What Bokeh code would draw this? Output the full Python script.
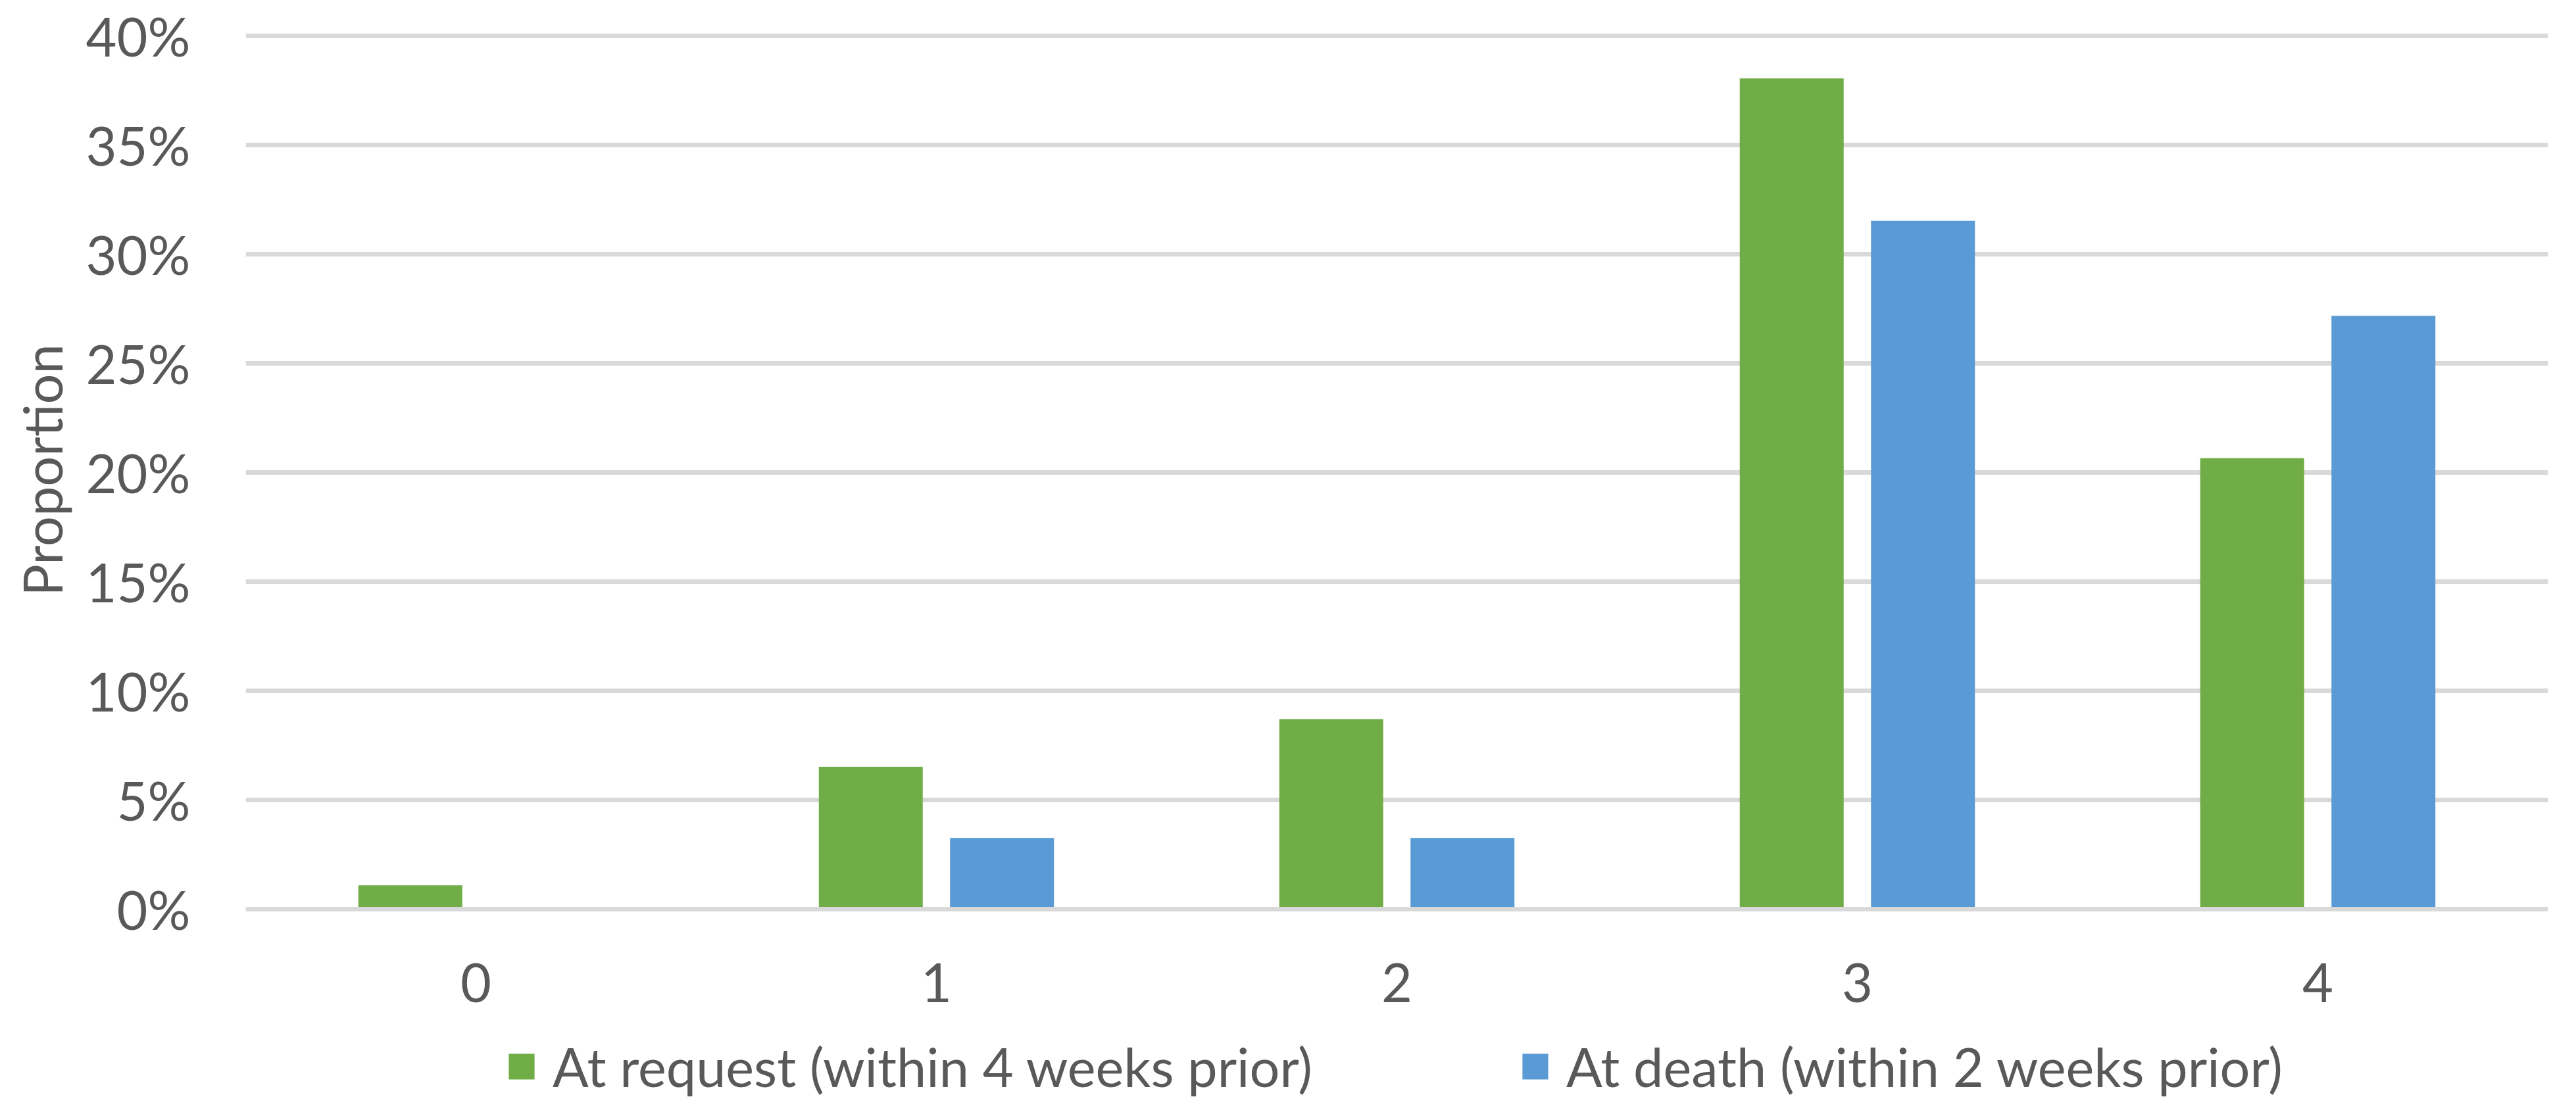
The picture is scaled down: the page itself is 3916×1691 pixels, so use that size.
from bokeh.plotting import figure
from bokeh.layouts import column
from bokeh.models import (ColumnDataSource, FactorRange, Range1d, FixedTicker,
                          NumeralTickFormatter, Legend, LegendItem)
from bokeh.transform import dodge
from bokeh.embed import file_html
from bokeh.resources import INLINE

# ---- data ----
categories = ["0", "1", "2", "3", "4"]
at_request = [0.0109, 0.0652, 0.0870, 0.3804, 0.2065]
at_death = [0.0, 0.0326, 0.0326, 0.3152, 0.2717]
series_names = ["At request (within 4 weeks prior)", "At death (within 2 weeks prior)"]
y_ticks = [0.0, 0.05, 0.10, 0.15, 0.20, 0.25, 0.30, 0.35, 0.40]
y_label = "Proportion"

GREEN = "#70AD47"
BLUE = "#5B9BD5"
TEXT = "#595959"
GRID = "#D9D9D9"
FONT = "Lato"
FS = "81px"

MAIN_H = 1566
LEG_H = 1675 - MAIN_H

src = ColumnDataSource(dict(cat=categories, req=at_request, death=at_death))

p = figure(
    width=3900, height=MAIN_H,
    x_range=FactorRange(*categories, range_padding=0),
    y_range=Range1d(0, 0.402),
    output_backend="svg", toolbar_location=None,
    min_border_left=373, min_border_right=27, min_border_top=47,
    min_border_bottom=MAIN_H - 1382,
)
p.outline_line_color = None
p.background_fill_color = "white"
p.border_fill_color = "white"

bw = 0.2257
off = 0.1425
p.vbar(x=dodge("cat", -off, range=p.x_range), top="req", width=bw, source=src,
       fill_color=GREEN, line_color=None)
p.vbar(x=dodge("cat", off, range=p.x_range), top="death", width=bw, source=src,
       fill_color=BLUE, line_color=None)

# grid
p.xgrid.grid_line_color = None
p.ygrid.grid_line_color = GRID
p.ygrid.grid_line_width = 7
p.ygrid.ticker = FixedTicker(ticks=y_ticks)

# y axis
p.yaxis.ticker = FixedTicker(ticks=y_ticks)
p.yaxis.formatter = NumeralTickFormatter(format="0%")
p.yaxis.axis_line_color = None
p.yaxis.major_tick_line_color = None
p.yaxis.minor_tick_line_color = None
p.yaxis.major_tick_out = 0
p.yaxis.major_tick_in = 0
p.yaxis.major_label_standoff = 84
p.yaxis.major_label_text_font = FONT
p.yaxis.major_label_text_font_size = FS
p.yaxis.major_label_text_color = TEXT
p.yaxis.axis_label = y_label
p.yaxis.axis_label_text_font = FONT
p.yaxis.axis_label_text_font_size = FS
p.yaxis.axis_label_text_font_style = "normal"
p.yaxis.axis_label_text_color = TEXT
p.yaxis.axis_label_standoff = 16

# x axis
p.xaxis.axis_line_color = GRID
p.xaxis.axis_line_width = 7
p.xaxis.major_tick_line_color = None
p.xaxis.minor_tick_line_color = None
p.xaxis.major_tick_out = 0
p.xaxis.major_tick_in = 0
p.xaxis.major_label_standoff = 82
p.xaxis.major_label_text_font = FONT
p.xaxis.major_label_text_font_size = FS
p.xaxis.major_label_text_color = TEXT

# ---- legend strip (separate figure under the chart; its renderers are hidden) ----
leg = figure(width=3900, height=LEG_H,
             x_range=FactorRange(*categories, range_padding=0), y_range=Range1d(0, 1),
             output_backend="svg", toolbar_location=None,
             x_axis_location=None, y_axis_location=None,
             min_border=0, min_border_left=0, min_border_right=0,
             min_border_top=0, min_border_bottom=0)
leg.outline_line_color = None
leg.xgrid.grid_line_color = None
leg.ygrid.grid_line_color = None
g1 = leg.vbar(x=dodge("cat", -off, range=leg.x_range), top="req", width=bw, source=src,
              fill_color=GREEN, line_color=None)
g2 = leg.vbar(x=dodge("cat", off, range=leg.x_range), top="death", width=bw, source=src,
              fill_color=BLUE, line_color=None)
g1.visible = False
g2.visible = False

lg = Legend(items=[LegendItem(label=series_names[0], renderers=[g1], index=0),
                   LegendItem(label=series_names[1], renderers=[g2], index=1)])
lg.orientation = "horizontal"
lg.location = (395, 5)
lg.glyph_width = 49
lg.glyph_height = 49
lg.label_standoff = 23
lg.spacing = 314
lg.padding = 0
lg.margin = 0
lg.border_line_color = None
lg.background_fill_alpha = 0
lg.inactive_fill_alpha = 0
lg.label_text_font = FONT
lg.label_text_font_size = FS
lg.label_text_color = TEXT
leg.add_layout(lg, "center")

layout = column(p, leg, spacing=0)
open("out.html", "w").write(file_html(layout, INLINE))
